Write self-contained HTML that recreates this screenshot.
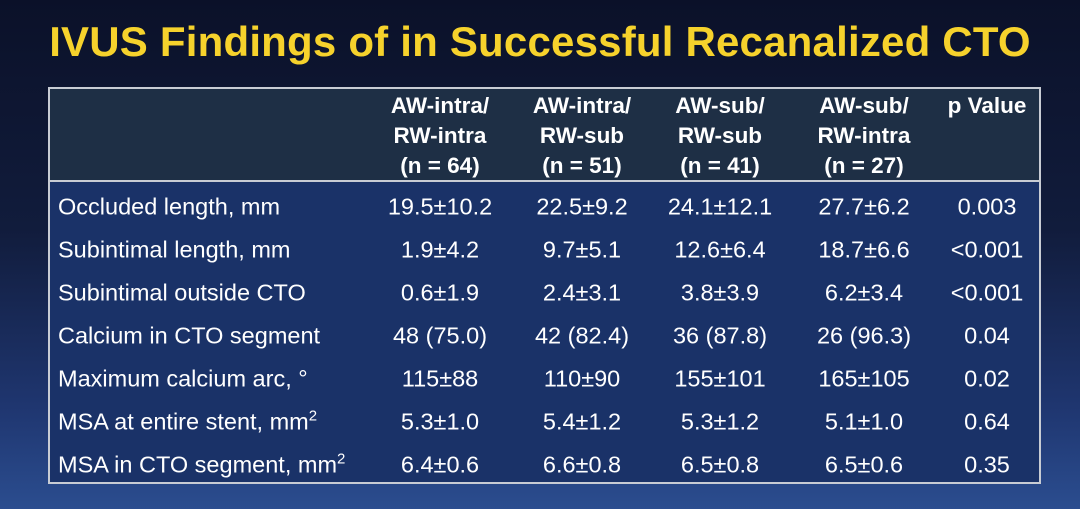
<!DOCTYPE html>
<html><head><meta charset="utf-8"><style>
html,body{margin:0;padding:0}
body{width:1080px;height:509px;overflow:hidden;position:relative;font-family:"Liberation Sans",Arial,sans-serif;
background:linear-gradient(180deg,#0b1129 0%,#111c3c 45%,#1f3670 80%,#2b4d8f 100%);}
#title{position:absolute;left:0;width:1080px;top:18px;text-align:center;color:#f6d22c;font-weight:bold;font-size:42px;letter-spacing:0.2px}
#tbl{position:absolute;left:48px;top:87px;width:989px;height:393px;border:2px solid #c8ccd4;background:#1a3268}
#hdr{position:absolute;left:0;top:0;width:989px;height:91px;background:#1e2f45;border-bottom:2px solid #c8ccd4}
.h{position:absolute;top:2px;color:#fff;font-weight:bold;font-size:22.5px;line-height:30px;text-align:center;transform:translateX(-50%);white-space:nowrap}
.c{position:absolute;color:#fff;font-size:23.5px;white-space:nowrap;transform:translate(-50%,-50%)}
.l{position:absolute;color:#fff;font-size:23.5px;white-space:nowrap;transform:translateY(-50%);left:8px}
sup{font-size:15px;vertical-align:9px;line-height:0}
</style></head><body>
<div id="title">IVUS Findings of in Successful Recanalized CTO</div>
<div id="tbl">
<div id="hdr">
<div class="h" style="left:390px">AW-intra/<br>RW-intra<br>(n = 64)</div>
<div class="h" style="left:532px">AW-intra/<br>RW-sub<br>(n = 51)</div>
<div class="h" style="left:670px">AW-sub/<br>RW-sub<br>(n = 41)</div>
<div class="h" style="left:814px">AW-sub/<br>RW-intra<br>(n = 27)</div>
<div class="h" style="left:937px">p Value</div>
</div>
<div id="rows"></div>
</div>
<script>
const labels=["Occluded length, mm","Subintimal length, mm","Subintimal outside CTO","Calcium in CTO segment","Maximum calcium arc, °","MSA at entire stent, mm<sup>2</sup>","MSA in CTO segment, mm<sup>2</sup>"];
const vals=[
["19.5±10.2","22.5±9.2","24.1±12.1","27.7±6.2","0.003"],
["1.9±4.2","9.7±5.1","12.6±6.4","18.7±6.6","<0.001"],
["0.6±1.9","2.4±3.1","3.8±3.9","6.2±3.4","<0.001"],
["48 (75.0)","42 (82.4)","36 (87.8)","26 (96.3)","0.04"],
["115±88","110±90","155±101","165±105","0.02"],
["5.3±1.0","5.4±1.2","5.3±1.2","5.1±1.0","0.64"],
["6.4±0.6","6.6±0.8","6.5±0.8","6.5±0.6","0.35"]];
const cx=[390,532,670,814,937];
const rows=document.getElementById('rows');
labels.forEach((lab,i)=>{
 const y=118+i*43;
 const d=document.createElement('div');d.className='l';d.style.top=y+'px';d.innerHTML=lab;
 
 
 rows.appendChild(d);
 vals[i].forEach((v,j)=>{
  const c=document.createElement('div');c.className='c';c.style.top=y+'px';c.style.left=cx[j]+'px';c.textContent=v;
  
  
  rows.appendChild(c);
 });
});
</script>
</body></html>
